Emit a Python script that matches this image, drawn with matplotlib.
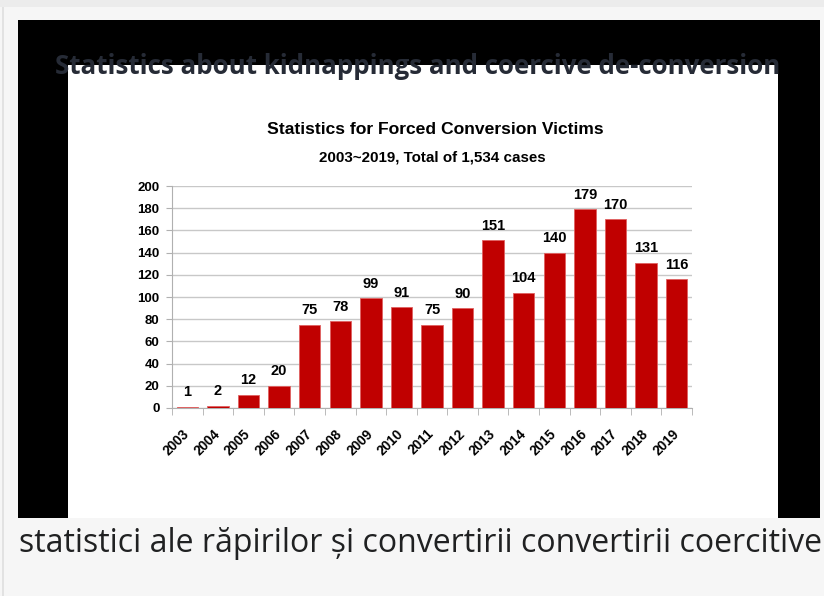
import matplotlib
matplotlib.use("Agg")
import matplotlib.pyplot as plt
from matplotlib.patches import Rectangle

# data
years = ["2003", "2004", "2005", "2006", "2007", "2008", "2009", "2010", "2011",
         "2012", "2013", "2014", "2015", "2016", "2017", "2018", "2019"]
victims = [1, 2, 12, 20, 75, 78, 99, 91, 75, 90, 151, 104, 140, 179, 170, 131, 116]
y_ticks = [0, 20, 40, 60, 80, 100, 120, 140, 160, 180, 200]

page_title = "Statistics about kidnappings and coercive de-conversion"
chart_title = "Statistics for Forced Conversion Victims"
chart_subtitle = "2003~2019, Total of 1,534 cases"
caption = "statistici ale răpirilor și convertirii convertirii coercitive"

W, H = 824, 596


def box(x0, y0, x1, y1):
    # pixel box (top-left origin) -> figure fraction rect
    return [x0 / W, 1 - y1 / H, (x1 - x0) / W, (y1 - y0) / H]


fig = plt.figure(figsize=(W / 100, H / 100), dpi=100)
fig.patch.set_facecolor("#f6f6f6")

# page frame
bg = fig.add_axes([0, 0, 1, 1])
bg.set_xlim(0, W)
bg.set_ylim(H, 0)
bg.axis("off")
bg.add_patch(Rectangle((0, 0), W, 7, color="#ececec", lw=0))
bg.add_patch(Rectangle((2, 7), 2, H, color="#e2e2e2", lw=0))
bg.add_patch(Rectangle((18, 20), 802, 498, color="black", lw=0))
bg.add_patch(Rectangle((68, 65), 710, 453, color="white", lw=0))
bg.text(418, 66, page_title, ha="center", va="center", fontsize=18.6,
        family="Open Sans", weight="bold", color="#262b36")
bg.text(19, 544, caption, ha="left", va="center", fontsize=23.0,
        family="Open Sans", color="#202122")

ax = fig.add_axes(box(172, 186, 692, 408))
x = list(range(len(years)))
ax.bar(x, victims, width=0.7, color="#c00000", edgecolor="#e06060", linewidth=0.6, zorder=3)
for xi, v in zip(x, victims):
    ax.annotate(str(v), (xi, v), xytext=(0, 7.5), textcoords="offset points",
                ha="center", va="baseline", fontsize=10.5,
                family="Liberation Sans", weight="bold", color="black")

ax.set_xlim(-0.5, len(years) - 0.5)
ax.set_ylim(0, 200)
ax.set_yticks(y_ticks)
ax.set_yticklabels([str(t) for t in y_ticks], family="Liberation Sans", weight="bold", fontsize=9.5)
ax.set_xticks(x)
ax.set_xticklabels(years, rotation=45, ha="right", va="center", rotation_mode="anchor",
                   family="Liberation Sans", weight="bold", fontsize=9.8)
ax.set_xticks([i + 0.5 for i in range(-1, len(years))], minor=True)
ax.tick_params(axis="x", which="major", length=0, pad=17)
ax.tick_params(axis="x", which="minor", length=5, color="#b0b0b0")
ax.tick_params(axis="y", length=4, color="#b0b0b0", pad=5)
ax.grid(axis="y", color="#c8c8c8", linewidth=1, zorder=0)
for s in ["top", "right"]:
    ax.spines[s].set_visible(False)
ax.spines["left"].set_color("#b0b0b0")
ax.spines["bottom"].set_color("#b0b0b0")

fig.text(435 / W, 1 - 130 / H, chart_title, ha="center", va="center", fontsize=12.6,
         family="Liberation Sans", weight="bold")
fig.text(432 / W, 1 - 158 / H, chart_subtitle, ha="center", va="center", fontsize=10.9,
         family="Liberation Sans", weight="bold")

fig.savefig("out.png", dpi=100, facecolor=fig.get_facecolor())
